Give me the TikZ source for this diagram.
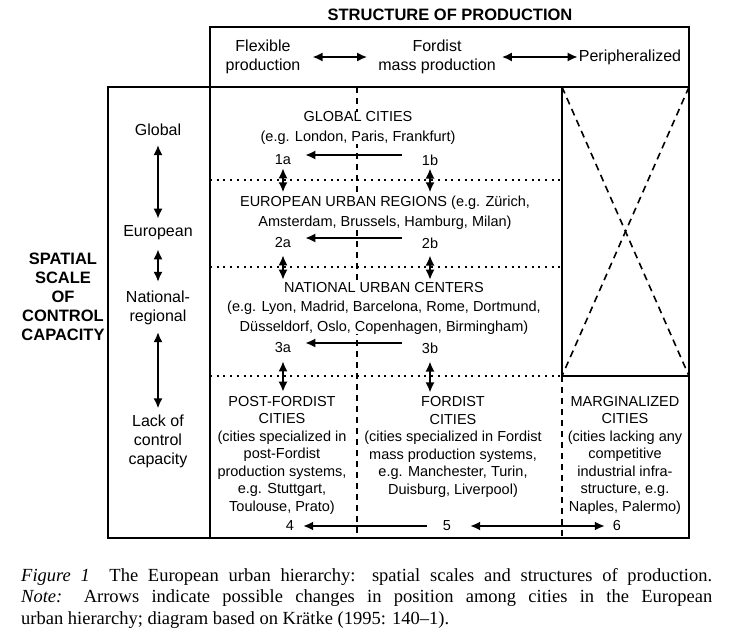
\documentclass[tikz,border=0pt]{standalone}
\usepackage{fontspec}
\setmainfont{Liberation Sans}
\newfontfamily\capfont{Liberation Serif}
\usepackage{tikz}
\usetikzlibrary{arrows.meta}

\begin{document}
\begin{tikzpicture}[x=1pt, y=-1pt, >={Latex[length=10pt,width=9pt]},
    txt/.style={inner sep=0pt, fill=white, align=center, font=\fontsize{14.5}{19.5}\selectfont},
    cell/.style={txt, font=\fontsize{14.5}{17.5}\selectfont},
    head/.style={inner sep=0pt, align=center, font=\fontsize{16}{19}\selectfont},
    heavy/.style={inner sep=0pt, align=center, font=\bfseries\fontsize{16.5}{19}\selectfont},
    boxline/.style={line width=1.8pt},
    dotline/.style={line width=1.8pt, dash pattern=on 2pt off 4.7pt},
    dashline/.style={line width=1.6pt, dash pattern=on 6pt off 5pt},
    crossline/.style={line width=1.6pt, dash pattern=on 7pt off 5pt},
    both/.style={<->, line width=1.7pt},
    oneway/.style={->, line width=1.7pt},
    capt/.style={inner sep=0pt, anchor=base west, font=\capfont\fontsize{18.5}{22}\selectfont}]
    \useasboundingbox (0,0) rectangle (732,636);

    % Frames
    \draw[boxline] (210,27) rectangle (689,87);
    \draw[boxline] (108,87) rectangle (210,538);
    \draw[boxline] (210,87) rectangle (689,538);
    \draw[boxline] (562,87) -- (562,376) -- (689,376);
    \draw[crossline] (562,87) -- (689,376);
    \draw[crossline] (689,87) -- (562,376);

    % Cell borders
    \draw[dashline] (357,87) -- (357,538);
    \draw[dashline] (562,376) -- (562,538);
    \foreach \y in {180,267,376} {
        \draw[dotline] (210,\y) -- (562,\y);
    }

    % Structure of production
    \node[heavy] (struct) at (450,15) {STRUCTURE OF PRODUCTION};
    \node[head] (flex) at (263,57) {Flexible\\production};
    \node[head] (ford) at (437,57) {Fordist\\mass production};
    \node[head] (peri) at (630,57) {Peripheralized};
    \draw[both, shorten <=12pt, shorten >=11pt] (flex) -- (ford);
    \draw[both, shorten <=6pt, shorten >=1pt] (ford) -- (peri);

    % Spatial scale
    \node[heavy] (spatial) at (63,297) {SPATIAL\\SCALE\\OF\\CONTROL\\CAPACITY};
    \node[head] (glob) at (158,130) {Global};
    \node[head] (euro) at (158,233) {European};
    \node[head] (natreg) at (158,308) {National-\\regional};
    \node[head] (lack) at (158,441) {Lack of\\control\\capacity};
    \draw[both, shorten <=9pt, shorten >=7pt] (glob) -- (euro);
    \draw[both, shorten <=9pt, shorten >=9pt] (euro) -- (natreg);
    \draw[both, shorten <=7pt, shorten >=6pt] (natreg) -- (lack);

    % City types
    \node[txt] (glc) at (358,128) {GLOBAL CITIES\\(e.g. London, Paris, Frankfurt)};
    \node[txt] (eur) at (385,213) {EUROPEAN URBAN REGIONS (e.g. Zürich,\\Amsterdam, Brussels, Hamburg, Milan)};
    \node[txt] (nat) at (384,308) {NATIONAL URBAN CENTERS\\(e.g. Lyon, Madrid, Barcelona, Rome, Dortmund,\\Düsseldorf, Oslo, Copenhagen, Birmingham)};
    \node[cell] (pfc) at (282,455) {POST-FORDIST\\CITIES\\(cities specialized in\\post-Fordist\\production systems,\\e.g. Stuttgart,\\Toulouse, Prato)};
    \node[cell] (fdc) at (453,447) {FORDIST\\CITIES\\(cities specialized in Fordist\\mass production systems,\\e.g. Manchester, Turin,\\Duisburg, Liverpool)};
    \node[cell] (mgc) at (625,455) {MARGINALIZED\\CITIES\\(cities lacking any\\competitive\\industrial infra-\\structure, e.g.\\Naples, Palermo)};

    % Positions
    \foreach \k/\y in {1/160,2/243,3/348} {
        \node[txt] (n\k a) at (283,\y) {\k a};
        \node[txt] (n\k b) at (430,\y) {\k b};
        \draw[oneway, shorten <=20pt, shorten >=14pt] ([yshift=5pt]n\k b.west) -- ([yshift=5pt]n\k a.east);
    }
    \node[txt] (n4) at (290,526) {4};
    \node[txt] (n5) at (447,526) {5};
    \node[txt] (n6) at (617,526) {6};

    % Moves between levels
    \draw[both, shorten <=3pt, shorten >=4pt] (n1a) -- (n1a |- eur.north);
    \draw[both, shorten <=3pt, shorten >=4pt] (n1b) -- (n1b |- eur.north);
    \draw[both, shorten <=7pt, shorten >=2pt] (n2a) -- (n2a |- nat.north);
    \draw[both, shorten <=7pt, shorten >=2pt] (n2b) -- (n2b |- nat.north);
    \draw[both, shorten <=8pt, shorten >=4pt] (n3a) -- (n3a |- pfc.north);
    \draw[both, shorten <=8pt, shorten >=4pt] (n3b) -- (n3b |- fdc.north);
    \draw[oneway, shorten <=16pt, shorten >=9pt] (n5) -- (n4);
    \draw[both, shorten <=19pt, shorten >=8pt] (n5) -- (n6);

    % Caption
    \node[capt] (cap1) at (21,582) {\makebox[691pt][s]{\textit{Figure 1}\ \ The European urban hierarchy: spatial scales and structures of production.}};
    \node[capt] (cap2) at (21,603) {\makebox[691pt][s]{\textit{Note:} Arrows indicate possible changes in position among cities in the European}};
    \node[capt] (cap3) at (21,624) {urban hierarchy; diagram based on Krätke (1995: 140–1).};
\end{tikzpicture}
\end{document}
